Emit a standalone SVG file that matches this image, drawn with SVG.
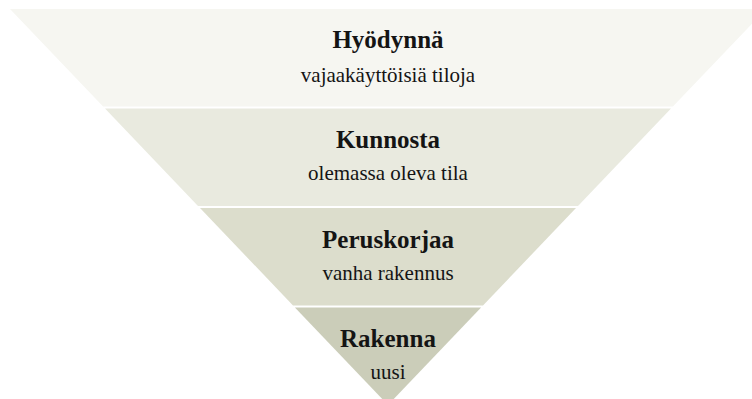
<svg xmlns="http://www.w3.org/2000/svg" width="752" height="399" viewBox="0 0 752 399">
  <style>
    .t { font-family: "Liberation Serif", "Times New Roman", serif; font-weight: bold; font-size: 25px; fill: #141414; text-anchor: middle; }
    .s { font-family: "Liberation Serif", "Times New Roman", serif; font-size: 21px; fill: #141414; text-anchor: middle; }
  </style>
  <rect x="0" y="0" width="752" height="399" fill="#ffffff"/>
  <g id="level1">
    <polygon points="10,9 766,9 672.9,106.5 103.1,106.5" fill="#f6f6f1"/>
    <text class="t" x="388" y="48">Hyödynnä</text>
    <text class="s" x="388" y="82">vajaakäyttöisiä tiloja</text>
  </g>
  <g id="level2">
    <polygon points="105,108.5 671,108.5 578,206 198,206" fill="#e9eadf"/>
    <text class="t" x="388" y="148">Kunnosta</text>
    <text class="s" x="388" y="180">olemassa oleva tila</text>
  </g>
  <g id="level3">
    <polygon points="200,208 576,208 483,305.5 293,305.5" fill="#dcddcc"/>
    <text class="t" x="388" y="248">Peruskorjaa</text>
    <text class="s" x="388" y="280">vanha rakennus</text>
  </g>
  <g id="level4">
    <polygon points="294.9,307.5 481.1,307.5 388,405" fill="#cbcdb9"/>
    <text class="t" x="388" y="347">Rakenna</text>
    <text class="s" x="388" y="379">uusi</text>
  </g>
  <g id="connectors"/>
</svg>
